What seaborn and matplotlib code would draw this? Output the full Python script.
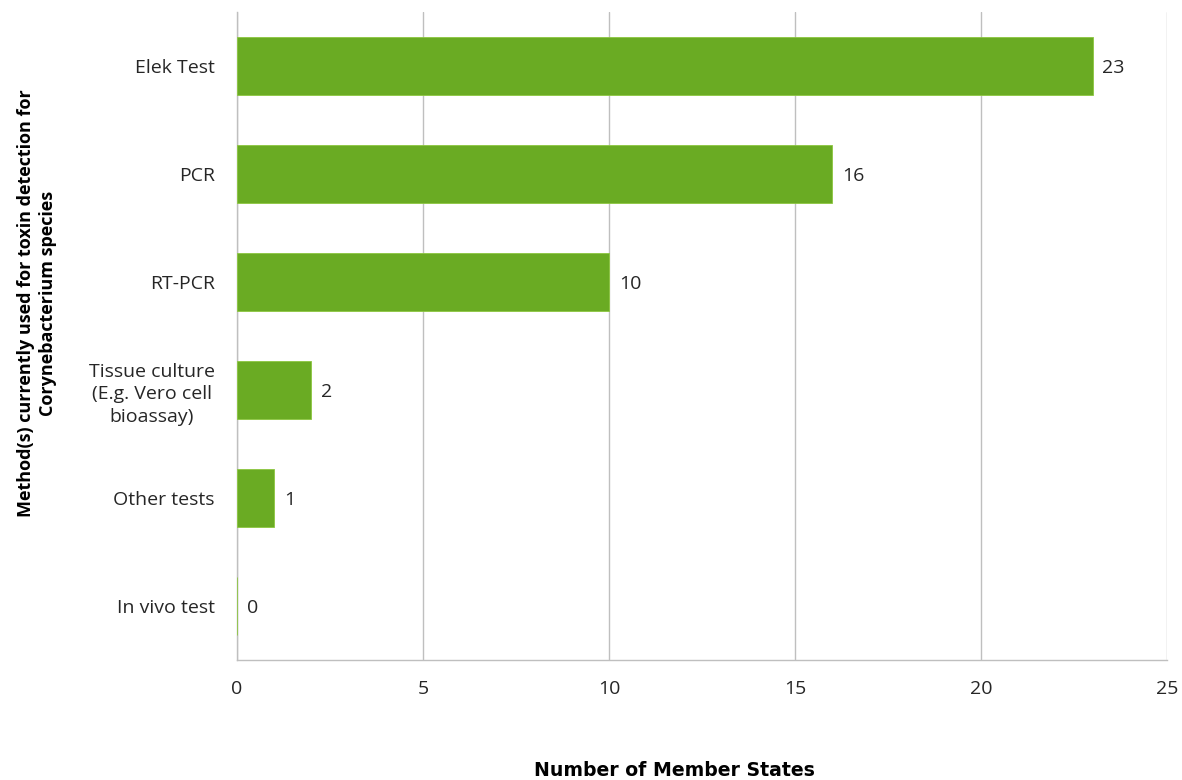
import pandas as pd
import matplotlib
matplotlib.use("Agg")
import matplotlib.pyplot as plt
import seaborn as sns

# Data
methods = [
    "Elek Test",
    "PCR",
    "RT-PCR",
    "Tissue culture\n(E.g. Vero cell\nbioassay)",
    "Other tests",
    "In vivo test",
]
member_states = [23, 16, 10, 2, 1, 0]
x_ticks = [0, 5, 10, 15, 20, 25]

df = pd.DataFrame({"method": methods, "count": member_states})

sns.set_style("white")
plt.rcParams["font.family"] = ["Open Sans", "DejaVu Sans"]

grid_col = "#BFBFBF"
text_col = "#262626"

fig = plt.figure(figsize=(11.82, 7.8), dpi=100)
ax = fig.add_axes([0.2005, 0.1538, 0.7868, 0.8308])

sns.barplot(
    data=df,
    x="count",
    y="method",
    orient="h",
    color="#6AAB23",
    width=0.53,
    saturation=1,
    edgecolor="#8CC63F",
    linewidth=0.6,
    ax=ax,
    zorder=3
)

ax.set_xlim(0, 25)
ax.set_xticks(x_ticks)
ax.set_ylim(len(methods) - 0.5, -0.5)

# gridlines
ax.grid(axis="x", color=grid_col, linewidth=1.0, zorder=0)
ax.set_axisbelow(True)

for side in ["top", "right"]:
    ax.spines[side].set_visible(False)
ax.spines["left"].set_color(grid_col)
ax.spines["bottom"].set_color(grid_col)
ax.spines["left"].set_linewidth(1.0)
ax.spines["bottom"].set_linewidth(1.0)

# category boundaries as ticks
ax.set_yticks([i - 0.5 for i in range(len(methods) + 1)], minor=True)
ax.tick_params(axis="y", which="minor", length=5, color=grid_col, width=1)
ax.tick_params(axis="y", which="major", length=0, pad=16, labelsize=14,
               labelcolor=text_col)
ax.tick_params(axis="x", which="major", length=4.5, color=grid_col, width=1,
               pad=10, labelsize=14, labelcolor=text_col)
for lbl in ax.get_yticklabels():
    lbl.set_horizontalalignment("right")
    lbl.set_multialignment("center")
    lbl.set_linespacing(1.35)

labels = ax.bar_label(ax.containers[0], padding=7, fontsize=14, color=text_col)
for t in labels:
    t.set_va("center_baseline")

ax.set_xlabel("")
ax.set_ylabel("")

fig.text(0.571, 0.0128, "Number of Member States", ha="center", va="center",
         fontsize=13.6, fontweight="bold", color="black",
         family=["DejaVu Sans"])
fig.text(0.031, 0.611, "Method(s) currently used for toxin detection for\nCorynebacterium species",
         rotation=90, ha="center", va="center", fontsize=13,
         fontweight="bold", color="black", multialignment="center",
         linespacing=1.3)

plt.savefig("out.png", dpi=100)
plt.close()
